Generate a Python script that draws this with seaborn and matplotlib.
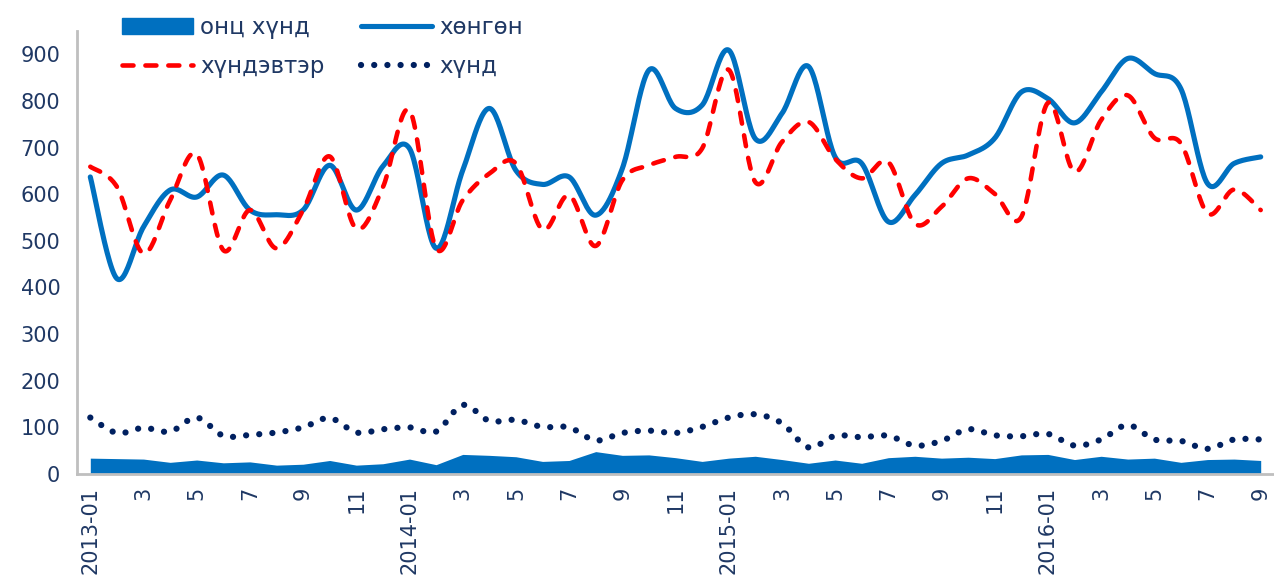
import numpy as np
import pandas as pd
import matplotlib
matplotlib.use("Agg")
import matplotlib.pyplot as plt
from matplotlib.lines import Line2D
from matplotlib.patches import Patch
import seaborn as sns

# Monthly counts, 2013-01 .. 2016-09
months = pd.period_range("2013-01", "2016-09", freq="M").strftime("%Y-%m").tolist()
tick_labels = [m if m.endswith("-01") else str(int(m[5:])) for m in months[::2]]

onts_khund = [34, 33, 32, 25, 30, 24, 26, 19, 21, 29, 19, 22, 32, 20, 42, 40, 37, 27, 29, 48, 40, 41, 35,
              27, 34, 38, 31, 23, 30, 23, 35, 38, 34, 36, 33, 41, 42, 31, 38, 32, 34, 25, 31, 32, 29]
khongon = [637, 419, 530, 609, 594, 641, 566, 556, 566, 662, 566, 660, 698, 484, 651, 784, 651, 621, 637,
           555, 655, 866, 784, 791, 909, 719, 773, 874, 680, 666, 541, 598, 666, 684, 720, 819, 805, 753,
           819, 891, 859, 826, 623, 666, 680]
khundevter = [659, 616, 473, 587, 686, 480, 566, 484, 566, 681, 526, 615, 780, 484, 587, 644, 666, 524,
              598, 489, 630, 662, 680, 698, 867, 626, 712, 755, 676, 634, 669, 537, 573, 634, 601, 551,
              796, 648, 759, 812, 721, 709, 559, 610, 566]
khund = [121, 88, 99, 91, 121, 82, 84, 89, 100, 120, 89, 96, 100, 91, 148, 114, 116, 101, 100, 72, 88, 93,
         88, 101, 121, 128, 109, 57, 82, 79, 82, 61, 71, 96, 83, 81, 86, 61, 74, 105, 74, 71, 54, 74, 74]

BLUE = "#0070C0"
RED = "#FF0000"
NAVY = "#002060"
TEXT = "#1F3864"
GREY = "#BFBFBF"


def smooth_curve(values, steps=24):
    """Catmull-Rom style Bezier smoothing through every point."""
    pts = np.column_stack([np.arange(len(values), dtype=float), np.asarray(values, dtype=float)])
    n = len(pts)
    out = []
    t = np.linspace(0, 1, steps, endpoint=False)[:, None]
    for i in range(n - 1):
        p0 = pts[max(i - 1, 0)]
        p1 = pts[i]
        p2 = pts[i + 1]
        p3 = pts[min(i + 2, n - 1)]
        c1 = p1 + (p2 - p0) / 6.0
        c2 = p2 - (p3 - p1) / 6.0
        seg = ((1 - t) ** 3) * p1 + 3 * ((1 - t) ** 2) * t * c1 + 3 * (1 - t) * t ** 2 * c2 + t ** 3 * p2
        out.append(seg)
    out.append(pts[-1][None, :])
    arr = np.vstack(out)
    return pd.DataFrame({"x": arr[:, 0], "y": arr[:, 1]})


sns.set_style("white")
plt.rcParams["font.family"] = ["DejaVu Sans"]

fig = plt.figure(figsize=(12.74, 5.79), dpi=100)
ax = fig.add_axes([77 / 1274, 105 / 579, 1197 / 1274, 443 / 579])

x_idx = np.arange(len(months))
ax.fill_between(x_idx, 0, onts_khund, color=BLUE, linewidth=0, zorder=1)

sns.lineplot(data=smooth_curve(khongon), x="x", y="y", sort=False, estimator=None, ax=ax,
             color=BLUE, linewidth=3.7, zorder=3, solid_capstyle="round")
sns.lineplot(data=smooth_curve(khundevter), x="x", y="y", sort=False, estimator=None, ax=ax,
             color=RED, linewidth=3.3, zorder=4, dashes=False)
ax.lines[-1].set_linestyle((0, (2.4, 2.6)))
ax.lines[-1].set_dash_capstyle("round")
sns.lineplot(data=smooth_curve(khund), x="x", y="y", sort=False, estimator=None, ax=ax,
             color=NAVY, linewidth=4.5, zorder=4)
ax.lines[-1].set_linestyle((0, (0.01, 2.1)))
ax.lines[-1].set_dash_capstyle("round")

ax.set_xlim(-0.5, len(months) - 0.5)
ax.set_ylim(0, 950)
ax.set_yticks(np.arange(0, 1000, 100))
ax.set_xticks(x_idx[::2])
ax.set_xticklabels(tick_labels, rotation=90)
ax.set_xticks(np.arange(-0.5, len(months), 1), minor=True)
ax.set_xlabel("")
ax.set_ylabel("")

ax.tick_params(axis="x", which="major", length=0, pad=9, labelsize=15, labelcolor=TEXT)
ax.tick_params(axis="x", which="minor", length=7, width=1.5, color=GREY)
ax.tick_params(axis="y", length=7, width=1.5, color=GREY, pad=5, labelsize=15, labelcolor=TEXT)
for lab in ax.get_xticklabels():
    lab.set_verticalalignment("top")

for side in ("top", "right"):
    ax.spines[side].set_visible(False)
for side in ("left", "bottom"):
    ax.spines[side].set_color(GREY)
    ax.spines[side].set_linewidth(2)

handles = [
    Patch(facecolor=BLUE, edgecolor=BLUE, joinstyle="round", linewidth=1),
    Line2D([], [], color=RED, linewidth=3.3, linestyle=(0, (2.4, 2.6)), dash_capstyle="round"),
    Line2D([], [], color=BLUE, linewidth=3.7, solid_capstyle="round"),
    Line2D([], [], color=NAVY, linewidth=4.5, linestyle=(0, (0.01, 2.1)), dash_capstyle="round"),
]
labels = ["онц хүнд", "хүндэвтэр", "хөнгөн", "хүнд"]
leg = fig.legend(handles, labels, ncol=2, loc="upper left", bbox_to_anchor=(106 / 1274, 1.0),
                 frameon=False, fontsize=16.5, handlelength=3.1, handletextpad=0.3,
                 labelspacing=0.7, columnspacing=1.6, borderpad=0.2)
for t in leg.get_texts():
    t.set_color(TEXT)

fig.savefig("out.png", dpi=100)
